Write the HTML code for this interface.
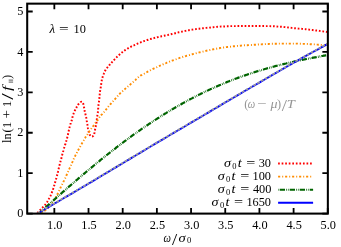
<!DOCTYPE html>
<html><head><meta charset="utf-8"><title>plot</title>
<style>
html,body{margin:0;padding:0;background:#fff;}
svg{display:block;will-change:transform;}
text{font-family:"Liberation Serif",serif;font-size:12.3px;fill:#000;}
.i{font-style:italic;}
.s{font-size:8.4px;}
</style></head><body>
<svg width="341" height="247" viewBox="0 0 341 247">
<rect width="341" height="247" fill="#fff"/>
<defs><clipPath id="c"><rect x="27.2" y="3.65" width="300.65000000000003" height="209.95"/></clipPath></defs>

<g clip-path="url(#c)" fill="none">
<path d="M37.3,213.0 L38.1,212.2 L38.9,211.3 L39.7,210.5 L40.5,209.6 L41.3,208.8 L42.1,207.9 L42.9,207.1 L43.7,206.3 L44.5,205.4 L45.3,204.6 L46.0,203.7 L46.6,202.7 L47.3,201.8 L47.9,200.8 L48.5,199.8 L49.0,198.7 L49.6,197.7 L50.1,196.6 L50.6,195.6 L51.0,194.5 L51.5,193.5 L51.9,192.4 L52.3,191.3 L52.7,190.2 L53.1,189.1 L53.4,188.0 L53.8,186.9 L54.1,185.8 L54.5,184.7 L54.8,183.6 L55.1,182.4 L55.4,181.3 L55.8,180.2 L56.1,179.1 L56.4,178.0 L56.7,176.9 L57.0,175.7 L57.3,174.6 L57.5,173.5 L57.8,172.4 L58.1,171.2 L58.3,170.1 L58.6,169.0 L58.9,167.8 L59.2,166.7 L59.4,165.6 L59.7,164.5 L60.0,163.4 L60.3,162.2 L60.6,161.1 L60.9,160.0 L61.2,158.9 L61.5,157.7 L61.8,156.6 L62.0,155.5 L62.3,154.4 L62.6,153.2 L62.9,152.1 L63.3,151.0 L63.6,149.9 L63.9,148.8 L64.2,147.7 L64.6,146.6 L64.9,145.5 L65.3,144.4 L65.6,143.2 L66.0,142.1 L66.3,141.0 L66.6,139.9 L66.9,138.8 L67.2,137.7 L67.5,136.6 L67.8,135.4 L68.0,134.3 L68.3,133.2 L68.5,132.0 L68.7,130.9 L69.0,129.7 L69.2,128.6 L69.5,127.5 L69.8,126.4 L70.1,125.2 L70.4,124.1 L70.8,123.1 L71.2,122.0 L71.6,120.9 L71.9,119.7 L72.2,118.6 L72.4,117.5 L72.7,116.4 L73.0,115.2 L73.4,114.1 L73.8,113.0 L74.2,112.0 L74.7,110.9 L75.2,109.9 L75.8,108.9 L76.3,107.8 L76.8,106.8 L77.4,105.8 L78.0,104.8 L78.7,103.9 L79.5,103.1 L80.4,102.2 L81.4,101.7 L82.4,102.0 L83.0,103.0 L83.4,104.2 L83.7,105.4 L83.9,106.5 L84.1,107.7 L84.3,108.8 L84.5,109.9 L84.7,111.1 L84.9,112.2 L85.2,113.3 L85.5,114.5 L85.8,115.6 L86.0,116.7 L86.3,117.9 L86.5,119.0 L86.7,120.2 L86.8,121.3 L87.0,122.4 L87.2,123.6 L87.4,124.7 L87.6,125.9 L87.8,127.0 L87.9,128.2 L88.1,129.3 L88.3,130.5 L88.6,131.6 L88.9,132.7 L89.3,133.8 L89.8,134.9 L90.5,135.8 L91.4,136.5 L92.6,136.4 L93.4,135.7 L94.0,134.6 L94.3,133.5 L94.6,132.4 L94.7,131.2 L94.9,130.1 L95.2,128.9 L95.5,127.8 L95.7,126.7 L95.9,125.5 L96.2,124.4 L96.4,123.3 L96.5,122.1 L96.7,121.0 L96.8,119.8 L96.9,118.7 L97.0,117.5 L97.2,116.4 L97.4,115.2 L97.6,114.1 L97.8,112.9 L97.9,111.8 L98.0,110.6 L98.1,109.5 L98.2,108.3 L98.3,107.1 L98.4,106.0 L98.5,104.8 L98.7,103.7 L98.9,102.5 L99.0,101.4 L99.2,100.2 L99.3,99.1 L99.4,97.9 L99.5,96.8 L99.6,95.6 L99.7,94.5 L99.8,93.3 L99.9,92.2 L100.1,91.0 L100.3,89.9 L100.5,88.7 L100.7,87.6 L100.9,86.4 L101.0,85.3 L101.2,84.1 L101.3,83.0 L101.5,81.8 L101.7,80.7 L101.9,79.6 L102.1,78.4 L102.5,77.3 L102.9,76.2 L103.3,75.2 L103.7,74.1 L104.0,73.0 L104.5,71.9 L105.0,70.9 L105.6,69.9 L106.3,68.9 L107.0,68.0 L107.7,67.1 L108.5,66.2 L109.2,65.3 L110.0,64.4 L110.7,63.6 L111.5,62.7 L112.3,61.9 L113.1,61.1 L113.9,60.2 L114.7,59.3 L115.4,58.5 L116.3,57.6 L117.1,56.8 L118.0,56.0 L118.8,55.2 L119.6,54.5 L120.5,53.7 L121.4,52.9 L122.3,52.2 L123.2,51.4 L124.1,50.8 L125.1,50.1 L126.0,49.5 L127.0,48.9 L128.0,48.3 L129.0,47.7 L130.1,47.2 L131.1,46.6 L132.1,46.1 L133.2,45.6 L134.2,45.2 L135.3,44.7 L136.4,44.2 L137.4,43.7 L138.5,43.3 L139.5,42.8 L140.6,42.4 L141.7,42.0 L142.8,41.6 L143.9,41.1 L145.0,40.8 L146.1,40.4 L147.2,40.0 L148.3,39.7 L149.4,39.3 L150.5,39.0 L151.6,38.7 L152.7,38.4 L153.8,38.1 L155.0,37.8 L156.1,37.5 L157.2,37.2 L158.3,37.0 L159.5,36.7 L160.6,36.5 L161.7,36.2 L162.9,36.0 L164.0,35.8 L165.2,35.5 L166.3,35.3 L167.4,35.1 L168.6,34.8 L169.7,34.5 L170.8,34.3 L171.9,34.0 L173.1,33.7 L174.2,33.5 L175.3,33.2 L176.4,32.9 L177.6,32.6 L178.7,32.3 L179.8,32.1 L181.0,31.8 L182.1,31.6 L183.2,31.4 L184.4,31.1 L185.5,30.9 L186.6,30.7 L187.8,30.4 L188.9,30.2 L190.1,30.0 L191.2,29.8 L192.3,29.6 L193.5,29.4 L194.6,29.3 L195.8,29.1 L196.9,29.0 L198.1,28.8 L199.2,28.7 L200.4,28.5 L201.5,28.4 L202.7,28.3 L203.8,28.2 L205.0,28.1 L206.2,27.9 L207.3,27.8 L208.5,27.7 L209.6,27.6 L210.8,27.5 L211.9,27.3 L213.1,27.2 L214.2,27.1 L215.4,27.0 L216.5,26.9 L217.7,26.8 L218.8,26.7 L220.0,26.6 L221.2,26.5 L222.3,26.5 L223.5,26.4 L224.6,26.4 L225.8,26.3 L227.0,26.3 L228.1,26.2 L229.3,26.2 L230.4,26.1 L231.6,26.1 L232.7,26.1 L233.9,26.1 L235.1,26.1 L236.2,26.1 L237.4,26.0 L238.5,26.0 L239.7,26.0 L240.9,26.0 L242.0,26.0 L243.2,26.0 L244.3,26.0 L245.5,26.0 L246.7,26.0 L247.8,26.0 L249.0,26.0 L250.1,26.0 L251.3,26.0 L252.5,26.0 L253.6,26.0 L254.8,26.0 L255.9,26.0 L257.1,26.0 L258.3,26.0 L259.4,26.0 L260.6,26.0 L261.7,26.0 L262.9,26.0 L264.1,26.0 L265.2,26.1 L266.4,26.1 L267.5,26.1 L268.7,26.1 L269.9,26.1 L271.0,26.2 L272.2,26.2 L273.3,26.3 L274.5,26.3 L275.6,26.4 L276.8,26.5 L278.0,26.6 L279.1,26.7 L280.3,26.7 L281.4,26.8 L282.6,26.9 L283.7,27.0 L284.9,27.1 L286.0,27.3 L287.2,27.4 L288.3,27.5 L289.5,27.7 L290.7,27.8 L291.8,27.9 L293.0,28.0 L294.1,28.2 L295.3,28.3 L296.4,28.4 L297.6,28.5 L298.7,28.6 L299.9,28.7 L301.0,28.8 L302.2,28.9 L303.3,29.0 L304.5,29.1 L305.7,29.2 L306.8,29.4 L308.0,29.5 L309.1,29.6 L310.3,29.8 L311.4,29.9 L312.6,30.0 L313.7,30.2 L314.9,30.3 L316.0,30.5 L317.2,30.6 L318.3,30.7 L319.5,30.9 L320.6,31.1 L321.8,31.2 L322.9,31.4 L324.1,31.6 L325.2,31.7 L326.4,31.9 L327.5,32.1" stroke="#ff0000" stroke-width="1.95" stroke-dasharray="1.7 1.85"/>
<path d="M37.8,213.4 L38.7,213.2 L39.7,212.9 L40.6,212.7 L41.4,212.3 L42.3,212.0 L43.1,211.6 L43.9,211.2 L44.7,210.8 L45.4,210.3 L46.2,209.8 L46.9,209.3 L47.6,208.6 L48.2,208.0 L48.9,207.3 L49.5,206.6 L50.1,205.9 L50.7,205.1 L51.3,204.4 L51.9,203.7 L52.4,202.9 L52.9,202.2 L53.4,201.4 L53.9,200.6 L54.4,199.8 L54.8,199.0 L55.3,198.2 L55.7,197.4 L56.2,196.6 L56.6,195.8 L57.0,194.9 L57.5,194.1 L57.9,193.3 L58.3,192.5 L58.7,191.7 L59.1,190.8 L59.5,190.0 L59.9,189.2 L60.3,188.3 L60.6,187.5 L61.0,186.7 L61.4,185.8 L61.8,185.0 L62.2,184.2 L62.7,183.3 L63.1,182.5 L63.5,181.7 L63.9,180.9 L64.3,180.0 L64.7,179.2 L65.1,178.4 L65.5,177.6 L65.9,176.7 L66.2,175.9 L66.6,175.0 L67.0,174.2 L67.4,173.4 L67.7,172.5 L68.1,171.7 L68.5,170.8 L68.8,170.0 L69.2,169.1 L69.6,168.3 L70.0,167.5 L70.3,166.6 L70.7,165.8 L71.1,164.9 L71.4,164.1 L71.8,163.2 L72.2,162.4 L72.6,161.6 L72.9,160.7 L73.3,159.9 L73.7,159.0 L74.1,158.2 L74.5,157.4 L74.9,156.6 L75.3,155.7 L75.7,154.9 L76.2,154.1 L76.6,153.3 L77.0,152.5 L77.4,151.7 L77.9,150.8 L78.3,150.0 L78.7,149.2 L79.2,148.4 L79.6,147.6 L80.1,146.8 L80.5,146.0 L81.0,145.2 L81.4,144.4 L81.9,143.6 L82.3,142.8 L82.8,142.0 L83.2,141.2 L83.7,140.4 L84.1,139.6 L84.6,138.8 L85.1,138.0 L85.5,137.2 L86.0,136.4 L86.5,135.7 L87.0,134.9 L87.6,134.1 L88.1,133.4 L88.6,132.6 L89.1,131.8 L89.6,131.1 L90.2,130.3 L90.7,129.6 L91.2,128.8 L91.7,128.0 L92.3,127.3 L92.8,126.5 L93.4,125.8 L93.9,125.1 L94.5,124.3 L95.0,123.6 L95.6,122.9 L96.1,122.1 L96.7,121.4 L97.2,120.6 L97.8,119.9 L98.3,119.1 L98.8,118.4 L99.3,117.6 L99.9,116.9 L100.4,116.2 L101.0,115.4 L101.6,114.7 L102.2,114.1 L102.8,113.4 L103.5,112.7 L104.1,112.0 L104.6,111.3 L105.2,110.6 L105.8,109.8 L106.4,109.1 L107.0,108.4 L107.5,107.7 L108.1,107.0 L108.7,106.2 L109.3,105.5 L109.9,104.8 L110.5,104.1 L111.1,103.5 L111.7,102.8 L112.3,102.1 L113.0,101.4 L113.6,100.8 L114.2,100.1 L114.8,99.4 L115.4,98.7 L116.0,98.0 L116.6,97.3 L117.2,96.6 L117.8,95.9 L118.4,95.2 L119.0,94.5 L119.7,93.8 L120.3,93.2 L121.0,92.6 L121.7,92.0 L122.4,91.4 L123.1,90.8 L123.8,90.1 L124.5,89.5 L125.1,88.9 L125.8,88.3 L126.5,87.7 L127.2,87.1 L127.9,86.5 L128.6,85.9 L129.3,85.3 L130.0,84.7 L130.7,84.1 L131.4,83.5 L132.1,82.9 L132.8,82.3 L133.5,81.7 L134.2,81.1 L134.9,80.5 L135.6,79.9 L136.2,79.2 L136.9,78.6 L137.5,77.9 L138.2,77.3 L138.9,76.7 L139.7,76.2 L140.4,75.7 L141.2,75.2 L142.0,74.8 L142.9,74.3 L143.7,73.9 L144.5,73.5 L145.3,73.0 L146.1,72.6 L146.9,72.2 L147.7,71.7 L148.5,71.3 L149.4,70.9 L150.2,70.4 L151.0,70.0 L151.8,69.6 L152.6,69.2 L153.5,68.7 L154.3,68.3 L155.1,67.9 L155.9,67.6 L156.8,67.2 L157.6,66.8 L158.4,66.4 L159.3,66.0 L160.1,65.6 L161.0,65.3 L161.8,64.9 L162.7,64.5 L163.5,64.2 L164.3,63.8 L165.2,63.4 L166.1,63.1 L166.9,62.7 L167.8,62.4 L168.6,62.1 L169.5,61.7 L170.3,61.4 L171.2,61.0 L172.0,60.7 L172.9,60.4 L173.8,60.1 L174.6,59.7 L175.5,59.4 L176.4,59.1 L177.2,58.8 L178.1,58.5 L179.0,58.2 L179.8,57.9 L180.7,57.6 L181.6,57.3 L182.5,57.0 L183.3,56.7 L184.2,56.5 L185.1,56.2 L186.0,56.0 L186.9,55.7 L187.7,55.5 L188.6,55.2 L189.5,55.0 L190.4,54.7 L191.3,54.5 L192.2,54.3 L193.1,54.0 L194.0,53.8 L194.9,53.6 L195.8,53.3 L196.7,53.1 L197.5,52.9 L198.4,52.7 L199.3,52.4 L200.2,52.2 L201.1,52.0 L202.0,51.8 L202.9,51.6 L203.8,51.4 L204.7,51.1 L205.6,50.9 L206.5,50.7 L207.4,50.5 L208.3,50.3 L209.2,50.2 L210.1,50.0 L211.0,49.8 L211.9,49.6 L212.8,49.4 L213.7,49.2 L214.6,49.0 L215.5,48.8 L216.4,48.7 L217.3,48.5 L218.2,48.3 L219.1,48.2 L220.0,48.0 L220.9,47.9 L221.9,47.7 L222.8,47.6 L223.7,47.5 L224.6,47.4 L225.5,47.2 L226.4,47.1 L227.3,47.0 L228.2,46.9 L229.2,46.8 L230.1,46.7 L231.0,46.6 L231.9,46.5 L232.8,46.4 L233.7,46.3 L234.7,46.2 L235.6,46.1 L236.5,46.0 L237.4,45.9 L238.3,45.8 L239.2,45.8 L240.2,45.7 L241.1,45.6 L242.0,45.5 L242.9,45.5 L243.8,45.4 L244.7,45.3 L245.7,45.3 L246.6,45.2 L247.5,45.2 L248.4,45.1 L249.3,45.1 L250.3,45.0 L251.2,45.0 L252.1,44.9 L253.0,44.9 L253.9,44.8 L254.9,44.8 L255.8,44.7 L256.7,44.7 L257.6,44.6 L258.5,44.5 L259.5,44.5 L260.4,44.4 L261.3,44.4 L262.2,44.3 L263.1,44.3 L264.0,44.2 L265.0,44.1 L265.9,44.1 L266.8,44.0 L267.7,44.0 L268.6,44.0 L269.6,43.9 L270.5,43.9 L271.4,43.8 L272.3,43.8 L273.2,43.8 L274.2,43.7 L275.1,43.7 L276.0,43.7 L276.9,43.7 L277.8,43.6 L278.8,43.6 L279.7,43.6 L280.6,43.6 L281.5,43.6 L282.4,43.6 L283.4,43.6 L284.3,43.6 L285.2,43.6 L286.1,43.6 L287.1,43.6 L288.0,43.6 L288.9,43.6 L289.8,43.6 L290.7,43.6 L291.7,43.6 L292.6,43.6 L293.5,43.6 L294.4,43.6 L295.3,43.6 L296.3,43.6 L297.2,43.6 L298.1,43.7 L299.0,43.7 L299.9,43.7 L300.9,43.8 L301.8,43.8 L302.7,43.9 L303.6,43.9 L304.5,43.9 L305.5,44.0 L306.4,44.0 L307.3,44.0 L308.2,44.1 L309.1,44.1 L310.1,44.2 L311.0,44.2 L311.9,44.3 L312.8,44.3 L313.7,44.4 L314.7,44.4 L315.6,44.5 L316.5,44.6 L317.4,44.6 L318.3,44.7 L319.2,44.7 L320.2,44.8 L321.1,44.9 L322.0,45.0 L322.9,45.0 L323.8,45.1 L324.8,45.2 L325.7,45.3 L326.6,45.4 L327.5,45.5" stroke="#ff8c00" stroke-width="1.9" stroke-dasharray="2.1 2.0 1.0 1.9"/>
<path d="M38.2,214.0 L38.8,213.4 L39.4,212.8 L40.1,212.3 L40.7,211.7 L41.3,211.2 L41.9,210.6 L42.6,210.0 L43.2,209.5 L43.8,208.9 L44.4,208.4 L45.1,207.8 L45.7,207.2 L46.3,206.7 L46.9,206.1 L47.6,205.6 L48.2,205.0 L48.8,204.5 L49.4,203.9 L50.1,203.3 L50.7,202.8 L51.3,202.2 L52.0,201.7 L52.6,201.1 L53.2,200.6 L53.8,200.0 L54.5,199.4 L55.1,198.9 L55.7,198.3 L56.3,197.8 L57.0,197.2 L57.6,196.7 L58.2,196.1 L58.9,195.5 L59.5,195.0 L60.1,194.4 L60.7,193.9 L61.4,193.3 L62.0,192.8 L62.6,192.2 L63.3,191.7 L63.9,191.1 L64.5,190.6 L65.1,190.0 L65.8,189.5 L66.4,188.9 L67.0,188.4 L67.7,187.8 L68.3,187.3 L68.9,186.7 L69.6,186.2 L70.2,185.6 L70.8,185.1 L71.5,184.5 L72.1,184.0 L72.7,183.4 L73.4,182.9 L74.0,182.3 L74.6,181.8 L75.3,181.2 L75.9,180.7 L76.5,180.1 L77.2,179.6 L77.8,179.0 L78.5,178.5 L79.1,177.9 L79.7,177.4 L80.4,176.9 L81.0,176.3 L81.6,175.8 L82.3,175.2 L82.9,174.7 L83.6,174.1 L84.2,173.6 L84.8,173.1 L85.5,172.5 L86.1,172.0 L86.8,171.4 L87.4,170.9 L88.1,170.4 L88.7,169.8 L89.3,169.3 L90.0,168.7 L90.6,168.2 L91.3,167.7 L91.9,167.1 L92.6,166.6 L93.2,166.1 L93.9,165.5 L94.5,165.0 L95.1,164.5 L95.8,163.9 L96.4,163.4 L97.1,162.9 L97.7,162.3 L98.4,161.8 L99.0,161.3 L99.7,160.8 L100.3,160.2 L101.0,159.7 L101.6,159.2 L102.3,158.6 L103.0,158.1 L103.6,157.6 L104.3,157.1 L104.9,156.5 L105.6,156.0 L106.2,155.5 L106.9,155.0 L107.5,154.5 L108.2,153.9 L108.9,153.4 L109.5,152.9 L110.2,152.4 L110.8,151.9 L111.5,151.3 L112.2,150.8 L112.8,150.3 L113.5,149.8 L114.1,149.3 L114.8,148.8 L115.5,148.3 L116.1,147.7 L116.8,147.2 L117.5,146.7 L118.1,146.2 L118.8,145.7 L119.5,145.2 L120.1,144.7 L120.8,144.2 L121.5,143.7 L122.1,143.2 L122.8,142.7 L123.5,142.2 L124.1,141.7 L124.8,141.2 L125.5,140.7 L126.2,140.2 L126.8,139.7 L127.5,139.2 L128.2,138.7 L128.9,138.2 L129.5,137.7 L130.2,137.2 L130.9,136.7 L131.6,136.2 L132.2,135.7 L132.9,135.2 L133.6,134.7 L134.3,134.2 L135.0,133.7 L135.6,133.3 L136.3,132.8 L137.0,132.3 L137.7,131.8 L138.4,131.3 L139.1,130.8 L139.8,130.4 L140.4,129.9 L141.1,129.4 L141.8,128.9 L142.5,128.4 L143.2,128.0 L143.9,127.5 L144.6,127.0 L145.3,126.5 L146.0,126.1 L146.7,125.6 L147.3,125.1 L148.0,124.7 L148.7,124.2 L149.4,123.7 L150.1,123.3 L150.8,122.8 L151.5,122.3 L152.2,121.9 L152.9,121.4 L153.6,120.9 L154.3,120.5 L155.0,120.0 L155.7,119.6 L156.4,119.1 L157.1,118.7 L157.8,118.2 L158.6,117.8 L159.3,117.3 L160.0,116.9 L160.7,116.4 L161.4,116.0 L162.1,115.5 L162.8,115.1 L163.5,114.6 L164.2,114.2 L164.9,113.7 L165.7,113.3 L166.4,112.9 L167.1,112.4 L167.8,112.0 L168.5,111.6 L169.2,111.1 L170.0,110.7 L170.7,110.3 L171.4,109.8 L172.1,109.4 L172.8,109.0 L173.6,108.5 L174.3,108.1 L175.0,107.7 L175.7,107.3 L176.5,106.9 L177.2,106.4 L177.9,106.0 L178.6,105.6 L179.4,105.2 L180.1,104.8 L180.8,104.4 L181.6,104.0 L182.3,103.5 L183.0,103.1 L183.8,102.7 L184.5,102.3 L185.2,101.9 L186.0,101.5 L186.7,101.1 L187.4,100.7 L188.2,100.3 L188.9,99.9 L189.7,99.5 L190.4,99.1 L191.1,98.8 L191.9,98.4 L192.6,98.0 L193.4,97.6 L194.1,97.2 L194.9,96.8 L195.6,96.4 L196.3,96.1 L197.1,95.7 L197.8,95.3 L198.6,94.9 L199.3,94.5 L200.1,94.2 L200.8,93.8 L201.6,93.4 L202.3,93.1 L203.1,92.7 L203.9,92.3 L204.6,92.0 L205.4,91.6 L206.1,91.2 L206.9,90.9 L207.6,90.5 L208.4,90.2 L209.2,89.8 L209.9,89.5 L210.7,89.1 L211.4,88.8 L212.2,88.4 L213.0,88.1 L213.7,87.7 L214.5,87.4 L215.3,87.1 L216.0,86.7 L216.8,86.4 L217.6,86.0 L218.3,85.7 L219.1,85.4 L219.9,85.0 L220.7,84.7 L221.4,84.4 L222.2,84.1 L223.0,83.7 L223.7,83.4 L224.5,83.1 L225.3,82.8 L226.1,82.5 L226.8,82.1 L227.6,81.8 L228.4,81.5 L229.2,81.2 L230.0,80.9 L230.7,80.6 L231.5,80.3 L232.3,80.0 L233.1,79.7 L233.9,79.4 L234.7,79.1 L235.4,78.8 L236.2,78.5 L237.0,78.2 L237.8,77.9 L238.6,77.6 L239.4,77.3 L240.2,77.1 L240.9,76.8 L241.7,76.5 L242.5,76.2 L243.3,75.9 L244.1,75.6 L244.9,75.4 L245.7,75.1 L246.5,74.8 L247.3,74.6 L248.1,74.3 L248.9,74.0 L249.7,73.8 L250.5,73.5 L251.3,73.2 L252.1,73.0 L252.9,72.7 L253.6,72.5 L254.4,72.2 L255.2,71.9 L256.0,71.7 L256.8,71.4 L257.6,71.2 L258.4,70.9 L259.2,70.7 L260.1,70.5 L260.9,70.2 L261.7,70.0 L262.5,69.7 L263.3,69.5 L264.1,69.3 L264.9,69.0 L265.7,68.8 L266.5,68.6 L267.3,68.3 L268.1,68.1 L268.9,67.9 L269.7,67.7 L270.5,67.4 L271.3,67.2 L272.1,67.0 L272.9,66.8 L273.8,66.6 L274.6,66.3 L275.4,66.1 L276.2,65.9 L277.0,65.7 L277.8,65.5 L278.6,65.3 L279.4,65.1 L280.3,64.9 L281.1,64.7 L281.9,64.5 L282.7,64.3 L283.5,64.1 L284.3,63.9 L285.1,63.7 L286.0,63.5 L286.8,63.3 L287.6,63.1 L288.4,62.9 L289.2,62.7 L290.0,62.5 L290.9,62.3 L291.7,62.2 L292.5,62.0 L293.3,61.8 L294.1,61.6 L294.9,61.4 L295.8,61.2 L296.6,61.1 L297.4,60.9 L298.2,60.7 L299.0,60.5 L299.9,60.4 L300.7,60.2 L301.5,60.0 L302.3,59.8 L303.1,59.7 L304.0,59.5 L304.8,59.3 L305.6,59.2 L306.4,59.0 L307.2,58.8 L308.1,58.7 L308.9,58.5 L309.7,58.4 L310.5,58.2 L311.4,58.0 L312.2,57.9 L313.0,57.7 L313.8,57.6 L314.7,57.4 L315.5,57.3 L316.3,57.1 L317.1,56.9 L318.0,56.8 L318.8,56.6 L319.6,56.5 L320.4,56.3 L321.2,56.2 L322.1,56.0 L322.9,55.9 L323.7,55.7 L324.5,55.6 L325.4,55.4 L326.2,55.3" stroke="#006400" stroke-width="2.2" stroke-dasharray="5.3 1.2 0.7 1.0 0.7 1.1"/>
<path d="M37.6,213.6 L40.0,212.2 L42.5,210.7 L44.9,209.3 L47.3,207.8 L49.8,206.4 L52.2,205.0 L54.6,203.5 L57.1,202.1 L59.5,200.7 L61.9,199.3 L64.4,197.8 L66.8,196.4 L69.3,195.0 L71.7,193.6 L74.1,192.1 L76.6,190.7 L79.0,189.3 L81.5,187.8 L83.9,186.4 L86.3,185.0 L88.7,183.5 L91.2,182.1 L93.6,180.6 L96.0,179.2 L98.4,177.7 L100.9,176.3 L103.3,174.8 L105.7,173.4 L108.2,171.9 L110.6,170.5 L113.0,169.0 L115.4,167.6 L117.8,166.1 L120.3,164.7 L122.7,163.2 L125.1,161.8 L127.5,160.3 L130.0,158.9 L132.4,157.4 L134.8,156.0 L137.2,154.5 L139.7,153.1 L142.1,151.6 L144.5,150.2 L146.9,148.7 L149.4,147.3 L151.8,145.8 L154.2,144.4 L156.7,142.9 L159.1,141.5 L161.5,140.1 L164.0,138.6 L166.4,137.2 L168.8,135.8 L171.3,134.3 L173.7,132.9 L176.1,131.5 L178.6,130.0 L181.0,128.6 L183.4,127.2 L185.9,125.7 L188.3,124.3 L190.7,122.9 L193.2,121.4 L195.6,120.0 L198.0,118.6 L200.5,117.1 L202.9,115.7 L205.3,114.2 L207.8,112.8 L210.2,111.4 L212.6,109.9 L215.1,108.5 L217.5,107.1 L219.9,105.6 L222.4,104.2 L224.8,102.8 L227.2,101.3 L229.7,99.9 L232.1,98.5 L234.6,97.0 L237.0,95.6 L239.4,94.2 L241.9,92.7 L244.3,91.3 L246.7,89.9 L249.2,88.5 L251.6,87.0 L254.1,85.6 L256.5,84.2 L259.0,82.8 L261.4,81.4 L263.8,80.0 L266.3,78.5 L268.7,77.1 L271.2,75.7 L273.6,74.3 L276.1,72.9 L278.5,71.5 L281.0,70.0 L283.4,68.6 L285.9,67.2 L288.3,65.8 L290.8,64.4 L293.2,63.0 L295.7,61.6 L298.1,60.2 L300.6,58.8 L303.1,57.4 L305.5,56.1 L308.0,54.7 L310.5,53.3 L312.9,52.0 L315.4,50.6 L317.9,49.3 L320.4,47.9 L322.9,46.6 L325.4,45.2 L327.9,43.9" stroke="#0000ff" stroke-width="1.9"/>
<path d="M37.5,213.3 L39.9,211.9 L42.4,210.5 L44.8,209.0 L47.2,207.6 L49.7,206.2 L52.1,204.7 L54.5,203.3 L57.0,201.9 L59.4,200.4 L61.8,199.0 L64.3,197.6 L66.7,196.2 L69.2,194.7 L71.6,193.3 L74.0,191.9 L76.5,190.5 L78.9,189.0 L81.4,187.6 L83.8,186.2 L86.2,184.7 L88.6,183.3 L91.1,181.8 L93.5,180.4 L95.9,178.9 L98.3,177.5 L100.8,176.0 L103.2,174.6 L105.6,173.1 L108.1,171.7 L110.5,170.2 L112.9,168.8 L115.3,167.3 L117.7,165.9 L120.2,164.4 L122.6,163.0 L125.0,161.5 L127.4,160.1 L129.9,158.6 L132.3,157.2 L134.7,155.7 L137.1,154.3 L139.6,152.8 L142.0,151.4 L144.4,149.9 L146.8,148.5 L149.3,147.0 L151.7,145.6 L154.1,144.1 L156.6,142.7 L159.0,141.3 L161.4,139.8 L163.9,138.4 L166.3,136.9 L168.7,135.5 L171.2,134.1 L173.6,132.6 L176.0,131.2 L178.5,129.8 L180.9,128.3 L183.3,126.9 L185.8,125.5 L188.2,124.0 L190.6,122.6 L193.1,121.2 L195.5,119.7 L197.9,118.3 L200.4,116.9 L202.8,115.4 L205.2,114.0 L207.7,112.6 L210.1,111.1 L212.5,109.7 L215.0,108.3 L217.4,106.8 L219.8,105.4 L222.3,103.9 L224.7,102.5 L227.1,101.1 L229.6,99.6 L232.0,98.2 L234.5,96.8 L236.9,95.3 L239.3,93.9 L241.8,92.5 L244.2,91.1 L246.6,89.6 L249.1,88.2 L251.5,86.8 L254.0,85.4 L256.4,84.0 L258.9,82.5 L261.3,81.1 L263.7,79.7 L266.2,78.3 L268.6,76.9 L271.1,75.5 L273.5,74.0 L276.0,72.6 L278.4,71.2 L280.9,69.8 L283.3,68.4 L285.8,67.0 L288.2,65.5 L290.7,64.1 L293.1,62.7 L295.6,61.3 L298.0,60.0 L300.5,58.6 L303.0,57.2 L305.4,55.8 L307.9,54.5 L310.4,53.1 L312.8,51.7 L315.3,50.4 L317.8,49.0 L320.3,47.7 L322.8,46.3 L325.3,45.0 L327.8,43.6" stroke="#999" stroke-width="1.7" stroke-dasharray="2.9 1.5"/>
</g>
<path d="M27.2,213.60h5.5M327.85,213.60h-5.5M27.2,173.18h5.5M327.85,173.18h-5.5M27.2,132.76h5.5M327.85,132.76h-5.5M27.2,92.34h5.5M327.85,92.34h-5.5M27.2,51.92h5.5M327.85,51.92h-5.5M27.2,11.50h5.5M327.85,11.50h-5.5M54.34,213.6v-5.5M54.34,3.65v5.5M88.52,213.6v-5.5M88.52,3.65v5.5M122.70,213.6v-5.5M122.70,3.65v5.5M156.88,213.6v-5.5M156.88,3.65v5.5M191.06,213.6v-5.5M191.06,3.65v5.5M225.24,213.6v-5.5M225.24,3.65v5.5M259.42,213.6v-5.5M259.42,3.65v5.5M293.60,213.6v-5.5M293.60,3.65v5.5M327.78,213.6v-5.5M327.78,3.65v5.5" stroke="#000" stroke-width="1.8" fill="none"/>
<rect x="27.2" y="3.65" width="300.65000000000003" height="209.95" fill="none" stroke="#000" stroke-width="2.05"/>
<text x="23.4" y="217.2" text-anchor="end">0</text>
<text x="23.4" y="176.8" text-anchor="end">1</text>
<text x="23.4" y="136.4" text-anchor="end">2</text>
<text x="23.4" y="95.9" text-anchor="end">3</text>
<text x="23.4" y="55.5" text-anchor="end">4</text>
<text x="23.4" y="15.1" text-anchor="end">5</text>
<text x="54.8" y="229.3" text-anchor="middle">1.0</text>
<text x="89.0" y="229.3" text-anchor="middle">1.5</text>
<text x="123.2" y="229.3" text-anchor="middle">2.0</text>
<text x="157.4" y="229.3" text-anchor="middle">2.5</text>
<text x="191.6" y="229.3" text-anchor="middle">3.0</text>
<text x="225.7" y="229.3" text-anchor="middle">3.5</text>
<text x="259.9" y="229.3" text-anchor="middle">4.0</text>
<text x="294.1" y="229.3" text-anchor="middle">4.5</text>
<text x="328.3" y="229.3" text-anchor="middle">5.0</text>
<text transform="translate(163.45,241.50) scale(0.853,1.000)" style="font-size:12.3px;font-style:italic;">ω</text>
<text transform="translate(172.00,244.60) scale(1.522,1.350)" style="font-size:12.3px;">/</text>
<text transform="translate(178.57,241.50) scale(1.182,1.000)" style="font-size:12.3px;font-style:italic;">σ</text>
<text transform="translate(186.88,243.30) scale(1.000,1.000)" style="font-size:8.5px;">0</text>
<g transform="translate(11.4,143.2) rotate(-90)">
<text transform="translate(0.25,0.00) scale(1.000,1.000)" style="font-size:12.3px;">l</text>
<text transform="translate(3.72,0.00) scale(1.000,1.000)" style="font-size:12.3px;">n</text>
<text transform="translate(10.76,0.00) scale(1.000,1.000)" style="font-size:12.3px;">(</text>
<text transform="translate(15.32,0.00) scale(1.000,1.000)" style="font-size:12.3px;">1</text>
<text transform="translate(24.65,0.00) scale(1.223,1.000)" style="font-size:12.3px;">+</text>
<text transform="translate(36.12,0.00) scale(1.000,1.000)" style="font-size:12.3px;">1</text>
<text transform="translate(43.40,1.60) scale(1.873,1.300)" style="font-size:12.3px;">/</text>
<text transform="translate(52.20,0.00) scale(1.448,1.000)" style="font-size:12.3px;font-style:italic;">f</text>
<path d="M61.1,1.7V-2.7M63.1,1.7V-2.7" stroke="#111" stroke-width="0.7" fill="none"/>
<text transform="translate(64.20,0.00) scale(1.000,1.000)" style="font-size:12.3px;">)</text>
</g>
<text transform="translate(49.42,33.10) scale(1.052,1.000)" style="font-size:12.3px;font-style:italic;">λ</text>
<text transform="translate(58.94,33.10) scale(1.398,1.000)" style="font-size:12.3px;">=</text>
<text transform="translate(73.52,33.10) scale(1.000,1.000)" style="font-size:12.3px;">10</text>
<text transform="translate(244.16,108.40) scale(1.000,1.000)" style="font-size:12.3px;fill:#969696;">(</text>
<text transform="translate(247.85,108.40) scale(0.853,1.000)" style="font-size:12.3px;font-style:italic;fill:#969696;">ω</text>
<text transform="translate(257.57,108.40) scale(1.363,1.000)" style="font-size:12.3px;fill:#969696;">−</text>
<text transform="translate(270.51,108.40) scale(1.142,1.000)" style="font-size:12.3px;font-style:italic;fill:#969696;">μ</text>
<text transform="translate(276.90,108.40) scale(1.000,1.000)" style="font-size:12.3px;fill:#969696;">)</text>
<text transform="translate(281.70,111.40) scale(1.522,1.350)" style="font-size:12.3px;fill:#969696;">/</text>
<text transform="translate(286.65,108.40) scale(1.183,1.000)" style="font-size:12.3px;font-style:italic;fill:#969696;">T</text>
<text transform="translate(223.88,166.70) scale(1.149,1.000)" style="font-size:12.3px;font-style:italic;">σ</text>
<text transform="translate(232.18,168.50) scale(1.000,1.000)" style="font-size:8.5px;">0</text>
<text transform="translate(237.68,166.70) scale(1.153,1.000)" style="font-size:12.3px;font-style:italic;">t</text>
<text transform="translate(246.30,166.70) scale(1.310,1.000)" style="font-size:12.3px;">=</text>
<text transform="translate(258.71,166.70) scale(1.000,1.000)" style="font-size:12.3px;">30</text>
<path d="M278.1,163.45H313.1" stroke="#ff0000" stroke-width="1.95" stroke-dasharray="1.7 1.85" fill="none"/>
<text transform="translate(217.73,179.85) scale(1.149,1.000)" style="font-size:12.3px;font-style:italic;">σ</text>
<text transform="translate(226.03,181.65) scale(1.000,1.000)" style="font-size:8.5px;">0</text>
<text transform="translate(231.53,179.85) scale(1.153,1.000)" style="font-size:12.3px;font-style:italic;">t</text>
<text transform="translate(240.15,179.85) scale(1.310,1.000)" style="font-size:12.3px;">=</text>
<text transform="translate(252.57,179.85) scale(1.000,1.000)" style="font-size:12.3px;">100</text>
<path d="M278.1,176.60H313.1" stroke="#ff8c00" stroke-width="1.9" stroke-dasharray="2.1 2.0 1.0 1.9" fill="none"/>
<text transform="translate(217.73,193.00) scale(1.149,1.000)" style="font-size:12.3px;font-style:italic;">σ</text>
<text transform="translate(226.03,194.80) scale(1.000,1.000)" style="font-size:8.5px;">0</text>
<text transform="translate(231.53,193.00) scale(1.153,1.000)" style="font-size:12.3px;font-style:italic;">t</text>
<text transform="translate(240.15,193.00) scale(1.310,1.000)" style="font-size:12.3px;">=</text>
<text transform="translate(252.91,193.00) scale(1.000,1.000)" style="font-size:12.3px;">400</text>
<path d="M278.1,189.75H313.1" stroke="#006400" stroke-width="2.2" stroke-dasharray="5.3 1.2 0.7 1.0 0.7 1.1" stroke-dashoffset="8.4" fill="none"/>
<text transform="translate(211.58,206.10) scale(1.149,1.000)" style="font-size:12.3px;font-style:italic;">σ</text>
<text transform="translate(219.88,207.90) scale(1.000,1.000)" style="font-size:8.5px;">0</text>
<text transform="translate(225.38,206.10) scale(1.153,1.000)" style="font-size:12.3px;font-style:italic;">t</text>
<text transform="translate(234.00,206.10) scale(1.310,1.000)" style="font-size:12.3px;">=</text>
<text transform="translate(246.42,206.10) scale(1.000,1.000)" style="font-size:12.3px;">1650</text>
<path d="M278.1,202.85H313.1" stroke="#0000ff" stroke-width="2.0" fill="none"/>
</svg></body></html>
